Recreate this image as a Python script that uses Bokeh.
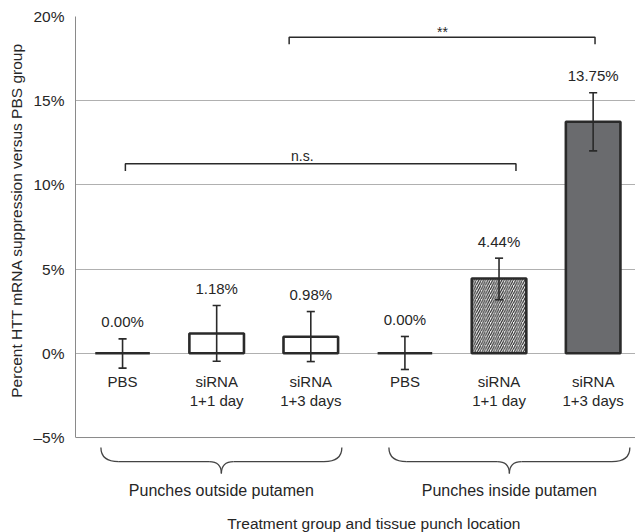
import math
from bokeh.plotting import figure
from bokeh.layouts import row
from bokeh.models import Range1d, FixedTicker, Span, ColumnDataSource
from bokeh.core.properties import value
from bokeh.embed import file_html
from bokeh.resources import INLINE

# ---------------- data ----------------
categories = ["PBS", "siRNA\n1+1 day", "siRNA\n1+3 days", "PBS", "siRNA\n1+1 day", "siRNA\n1+3 days"]
values = [0.00, 1.18, 0.98, 0.00, 4.44, 13.75]
err_hi = [0.86, 2.84, 2.48, 1.00, 5.65, 15.47]
err_lo = [-0.88, -0.47, -0.49, -0.96, 3.18, 12.02]
value_labels = ["0.00%", "1.18%", "0.98%", "0.00%", "4.44%", "13.75%"]
groups = ["Punches outside putamen", "Punches inside putamen"]
y_ticks = [-5, 0, 5, 10, 15, 20]
y_tick_labels = ["\u20135%", "0%", "5%", "10%", "15%", "20%"]
sig_labels = ["n.s.", "**"]
y_title = "Percent HTT mRNA suppression versus PBS group"
x_title = "Treatment group and tissue punch location"

# ---------------- style ----------------
FONT = "Liberation Sans"
TXT = "#262626"
EDGE = "#2a2a2a"
fills = ["white", "white", "white", "white", "white", "#6a6b6e"]
hatches = [" ", " ", " ", " ", "/", " "]
Y_RANGE = (-10.64, 20)

xs = [i + 0.5 for i in range(len(categories))]

# left strip holding the rotated y title
t = figure(width=30, height=532, x_range=Range1d(0, 1), y_range=Range1d(*Y_RANGE),
           output_backend="svg", toolbar_location=None, x_axis_location=None,
           y_axis_location=None, min_border_left=0, min_border_right=0,
           min_border_top=16, min_border_bottom=0)
t.outline_line_color = None
t.xgrid.visible = False
t.ygrid.visible = False
t.text(x=[0.53], y=[7.9], text=[y_title], angle=math.pi / 2, text_align="center",
       text_baseline="middle", text_font=value(FONT), text_font_size="15.5px", text_color=TXT)

p = figure(width=605, height=532, x_range=Range1d(0, 5.95), y_range=Range1d(*Y_RANGE),
           output_backend="svg", toolbar_location=None, x_axis_location=None,
           min_border_left=42, min_border_right=0, min_border_top=16, min_border_bottom=0)
p.outline_line_color = None
p.xgrid.visible = False
p.ygrid.ticker = FixedTicker(ticks=[v for v in y_ticks if v > y_ticks[0]])
p.ygrid.grid_line_color = "#b0b0b0"
p.ygrid.grid_line_width = 1
p.add_layout(Span(location=y_ticks[0], dimension="width", line_color="#8a8a8a", line_width=1))

ax = p.yaxis[0]
ax.bounds = (y_ticks[0], y_ticks[-1])
ax.ticker = FixedTicker(ticks=y_ticks)
ax.major_label_overrides = {v: l for v, l in zip(y_ticks, y_tick_labels)}
ax.major_tick_line_color = None
ax.minor_tick_line_color = None
ax.axis_line_color = "#8a8a8a"
ax.major_label_text_font = FONT
ax.major_label_text_font_size = "15.5px"
ax.major_label_text_color = TXT
ax.major_label_standoff = 5

src = ColumnDataSource(dict(x=xs, top=values, fill=fills, hatch=hatches, hi=err_hi, lo=err_lo,
                            lab=value_labels, cat=categories,
                            laby=[h + 0.5 for h in err_hi]))

p.vbar(x="x", top="top", bottom=0, width=0.58, source=src, fill_color="fill",
       line_color=EDGE, line_width=2.6, hatch_pattern="hatch", hatch_color=EDGE,
       hatch_scale=4.6, hatch_weight=1.2)

# error bars
cap = 0.043
p.segment(x0="x", y0="lo", x1="x", y1="hi", source=src, line_color=EDGE, line_width=1.6)
p.segment(x0=[x - cap for x in xs], y0=err_hi, x1=[x + cap for x in xs], y1=err_hi,
          line_color=EDGE, line_width=1.6)
p.segment(x0=[x - cap for x in xs], y0=err_lo, x1=[x + cap for x in xs], y1=err_lo,
          line_color=EDGE, line_width=1.6)

# value labels
p.text(x="x", y="laby", text="lab", source=src, text_align="center", text_baseline="bottom",
       text_font=value(FONT), text_font_size="15px", text_color=TXT)
# category labels
p.text(x="x", y=-1.15, text="cat", source=src, text_align="center", text_baseline="top",
       text_font=value(FONT), text_font_size="15px", text_color=TXT, text_line_height=1.15)

# significance brackets
br_x0 = [0.53, 2.27]
br_x1 = [4.68, 5.52]
br_y = [11.25, 18.77]
drop = 0.42
p.multi_line(xs=[[a, a, b, b] for a, b in zip(br_x0, br_x1)],
             ys=[[y - drop, y, y, y - drop] for y in br_y], line_color=EDGE, line_width=1.5)
p.text(x=[2.41, 3.90], y=[11.74, 19.1], text=sig_labels, text_align="center",
       text_baseline="middle", text_font=value(FONT), text_font_size="14px", text_color=TXT)

# curly braces under groups
brace_mid = [1.55, 4.61]
brace_half = 1.28
ytop, yflat, ytip = -5.59, -6.43, -7.14
r, r2 = 0.19, 0.13
qx0, qy0, qx1, qy1, qcx, qcy = [], [], [], [], [], []
lx0, lx1 = [], []
for m in brace_mid:
    L, R = m - brace_half, m + brace_half
    for (a, b, c, d, e, f) in [(L, ytop, L + r, yflat, L, yflat),
                               (m - r2, yflat, m, ytip, m, yflat),
                               (m, ytip, m + r2, yflat, m, yflat),
                               (R - r, yflat, R, ytop, R, yflat)]:
        qx0.append(a); qy0.append(b); qx1.append(c); qy1.append(d); qcx.append(e); qcy.append(f)
    lx0 += [L + r, m + r2]
    lx1 += [m - r2, R - r]
p.quadratic(x0=qx0, y0=qy0, x1=qx1, y1=qy1, cx=qcx, cy=qcy, line_color="#444444", line_width=1.3)
p.segment(x0=lx0, y0=yflat, x1=lx1, y1=yflat, line_color="#444444", line_width=1.3)

p.text(x=brace_mid, y=-8.15, text=groups, text_align="center", text_baseline="middle",
       text_font=value(FONT), text_font_size="16px", text_color=TXT)
p.text(x=[3.17], y=[-10.1], text=[x_title], text_align="center", text_baseline="middle",
       text_font=value(FONT), text_font_size="15.5px", text_color=TXT)

layout = row(t, p)
open("out.html", "w").write(file_html(layout, INLINE))
